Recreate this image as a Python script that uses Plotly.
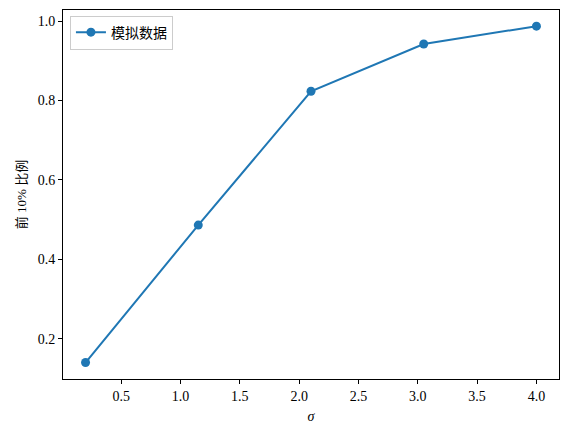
import plotly.graph_objects as go

# sigma values and share in top 10%
sigma = [0.2, 1.15, 2.1, 3.05, 4.0]
top10_share = [0.140, 0.486, 0.823, 0.942, 0.987]
series_name = "模拟数据"

font_fam = "Liberation Serif"

fig = go.Figure()
fig.add_trace(go.Scatter(
    x=sigma, y=top10_share, mode="lines+markers", name=series_name,
    line=dict(color="#1f77b4", width=2),
    marker=dict(color="#1f77b4", size=9),
))

axis_common = dict(
    showgrid=False, zeroline=False, showline=True, linecolor="black",
    linewidth=1, mirror=True, ticks="outside", ticklen=4, tickcolor="black",
    tickfont=dict(size=14, color="black", family=font_fam),
)

# page body has an 8px margin, so the figure is shrunk by that much
fig.update_layout(
    width=560, height=428,
    margin=dict(l=55, r=9, t=2, b=57),
    plot_bgcolor="white", paper_bgcolor="white",
    font=dict(family="Liberation Serif, Noto Sans CJK SC", color="black"),
    xaxis=dict(range=[0.01, 4.19], tickvals=[0.5, 1.0, 1.5, 2.0, 2.5, 3.0, 3.5, 4.0],
               ticktext=["0.5", "1.0", "1.5", "2.0", "2.5", "3.0", "3.5", "4.0"],
               title=dict(text="<i>σ</i>", font=dict(size=14), standoff=8),
               **axis_common),
    yaxis=dict(range=[0.0985, 1.0277], tickvals=[0.2, 0.4, 0.6, 0.8, 1.0],
               ticktext=["0.2", "0.4", "0.6", "0.8", "1.0"],
               title=dict(text="前 10% 比例", font=dict(size=13), standoff=8),
               **axis_common),
    showlegend=True,
    legend=dict(x=0.014, y=0.985, xanchor="left", yanchor="top",
                bordercolor="#cccccc", borderwidth=1, bgcolor="white",
                font=dict(size=14, family="Noto Sans CJK SC")),
)

fig.write_html("out.html")
